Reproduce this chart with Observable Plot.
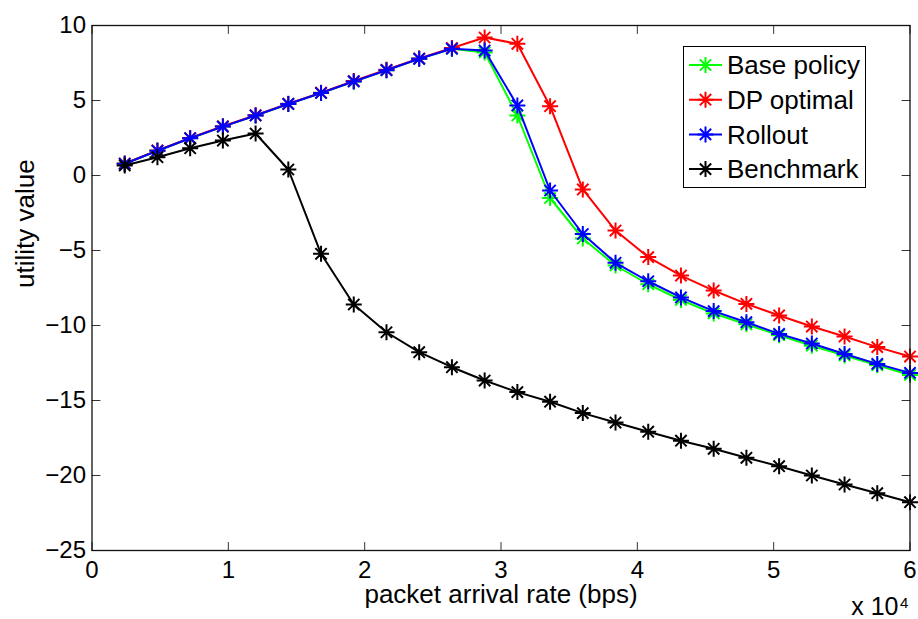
<!DOCTYPE html>
<html>
<head>
<meta charset="utf-8">
<script src="https://cdn.jsdelivr.net/npm/d3@7"></script>
<script src="https://cdn.jsdelivr.net/npm/@observablehq/plot@0.6"></script>
<style>
  html, body { margin: 0; padding: 0; background: #fff; }
  #wrap { position: relative; width: 918px; height: 619px; font-family: "Liberation Sans", Arial, Helvetica, sans-serif; }
  #legend { position: absolute; left: 683px; top: 46px; width: 183px; height: 142px; box-sizing: border-box; border: 1.2px solid #000; background: #fff; }
  #legend svg { position: absolute; left: -1px; top: -1px; }
</style>
</head>
<body>
<div id="wrap"><div id="legend"></div></div>
<script>
// ---- data ----
const rate = [2400, 4800, 7200, 9600, 12000, 14400, 16800, 19200, 21600, 24000, 26400, 28800, 31200,
              33600, 36000, 38400, 40800, 43200, 45600, 48000, 50400, 52800, 55200, 57600, 60000];
const basePolicy = [0.78, 1.65, 2.48, 3.26, 4.0, 4.77, 5.5, 6.27, 7.02, 7.78, 8.45, 8.2, 4.0,
                    -1.5, -4.2, -6.0, -7.25, -8.3, -9.2, -9.92, -10.65, -11.35, -12.0, -12.65, -13.3];
const dpOptimal = [0.8, 1.67, 2.5, 3.28, 4.02, 4.78, 5.52, 6.3, 7.05, 7.8, 8.5, 9.2, 8.78,
                   4.62, -0.93, -3.67, -5.44, -6.67, -7.67, -8.56, -9.33, -10.07, -10.73, -11.44, -12.07];
const rollout = [0.78, 1.65, 2.48, 3.26, 4.0, 4.77, 5.5, 6.27, 7.02, 7.78, 8.45, 8.33, 4.67,
                 -1.0, -3.9, -5.82, -7.05, -8.13, -9.04, -9.78, -10.56, -11.2, -11.9, -12.56, -13.16];
const benchmark = [0.67, 1.22, 1.82, 2.33, 2.8, 0.4, -5.22, -8.6, -10.45, -11.78, -12.78, -13.67, -14.44,
                   -15.08, -15.84, -16.47, -17.08, -17.68, -18.22, -18.82, -19.38, -20.0, -20.6, -21.18, -21.78];
const seriesNames = ["Base policy", "DP optimal", "Rollout", "Benchmark"];
const seriesColors = ["#00ff00", "#ff0000", "#0000ff", "#000000"];
const seriesValues = [basePolicy, dpOptimal, rollout, benchmark];
const xTicks = [0, 10000, 20000, 30000, 40000, 50000, 60000];
const yTicks = [-25, -20, -15, -10, -5, 0, 5, 10];

// ---- helpers ----
const asterisk = {
  draw(context, size) {
    const r = Math.sqrt(size / Math.PI);
    const d = r * Math.SQRT1_2;
    context.moveTo(0, -r); context.lineTo(0, r);
    context.moveTo(-r, 0); context.lineTo(r, 0);
    context.moveTo(-d, -d); context.lineTo(d, d);
    context.moveTo(-d, d); context.lineTo(d, -d);
  }
};
const tickShape = { draw(context, l) { context.moveTo(0, 0); context.lineTo(0, -l); } };

const xMin = xTicks[0], xMax = xTicks[xTicks.length - 1];
const yMin = yTicks[0], yMax = yTicks[yTicks.length - 1];

const seriesMarks = seriesNames.flatMap((name, s) => {
  const rows = rate.map((x, i) => ({x, y: seriesValues[s][i]}));
  return [
    Plot.line(rows, {x: "x", y: "y", stroke: seriesColors[s], strokeWidth: 2}),
    Plot.dot(rows, {x: "x", y: "y", stroke: seriesColors[s], fill: "none", symbol: asterisk, r: 8, strokeWidth: 2})
  ];
});

const tickLen = 8;
const chart = Plot.plot({
  width: 918,
  height: 619,
  marginLeft: 91.5,
  marginRight: 8.5,
  marginTop: 25,
  marginBottom: 69,
  style: {fontFamily: '"Liberation Sans", Arial, Helvetica, sans-serif', background: "#fff", color: "#000"},
  x: {domain: [xMin, xMax]},
  y: {domain: [yMin, yMax]},
  marks: [
    // inward ticks on all four sides
    Plot.vector(xTicks, {x: d => d, y: () => yMin, length: tickLen, rotate: 0, anchor: "start", shape: tickShape, stroke: "#333", strokeWidth: 1}),
    Plot.vector(xTicks, {x: d => d, y: () => yMax, length: tickLen, rotate: 180, anchor: "start", shape: tickShape, stroke: "#333", strokeWidth: 1}),
    Plot.vector(yTicks, {x: () => xMin, y: d => d, length: tickLen, rotate: 90, anchor: "start", shape: tickShape, stroke: "#333", strokeWidth: 1}),
    Plot.vector(yTicks, {x: () => xMax, y: d => d, length: tickLen, rotate: -90, anchor: "start", shape: tickShape, stroke: "#333", strokeWidth: 1}),
    Plot.axisX({ticks: xTicks, tickSize: 0, tickPadding: 10, tickFormat: d => d / 1e4, fontSize: 24, label: null}),
    Plot.axisY({ticks: yTicks, tickSize: 0, tickPadding: 6, fontSize: 24, label: null}),
    Plot.text(["packet arrival rate (bps)"], {frameAnchor: "bottom", lineAnchor: "top", dy: 34, fontSize: 26, text: d => d}),
    Plot.text(["utility value"], {frameAnchor: "left", rotate: -90, lineAnchor: "middle", dx: -66.5, fontSize: 26, text: d => d}),
    Plot.text(["x 10"], {frameAnchor: "bottom-right", textAnchor: "end", lineAnchor: "top", dx: -11.5, dy: 46.3, fontSize: 25, text: d => d}),
    Plot.text(["4"], {frameAnchor: "bottom-right", textAnchor: "start", lineAnchor: "top", dx: -10, dy: 46.9, fontSize: 15, text: d => d}),
    ...seriesMarks,
    Plot.frame({stroke: "#111", strokeWidth: 1.3})
  ]
});
const wrap = document.getElementById("wrap");
wrap.insertBefore(chart, wrap.firstChild);

// ---- legend ----
const lg = d3.select("#legend").append("svg").attr("width", 183).attr("height", 142)
  .style("font-family", '"Liberation Sans", Arial, Helvetica, sans-serif');
seriesNames.forEach((name, s) => {
  const cy = 19 + s * 34.7;
  const g = lg.append("g").attr("transform", `translate(0,${cy})`);
  g.append("line").attr("x1", 6).attr("x2", 39).attr("y1", 0).attr("y2", 0)
    .attr("stroke", seriesColors[s]).attr("stroke-width", 2);
  const r = 8, dd = r * Math.SQRT1_2;
  g.append("path").attr("transform", "translate(22.5,0)")
    .attr("d", `M0,${-r}L0,${r}M${-r},0L${r},0M${-dd},${-dd}L${dd},${dd}M${-dd},${dd}L${dd},${-dd}`)
    .attr("stroke", seriesColors[s]).attr("stroke-width", 2).attr("fill", "none");
  g.append("text").attr("x", 44).attr("y", 0).attr("dy", "0.35em")
    .attr("font-size", 26).attr("fill", "#000").text(name);
});
</script>
</body>
</html>
